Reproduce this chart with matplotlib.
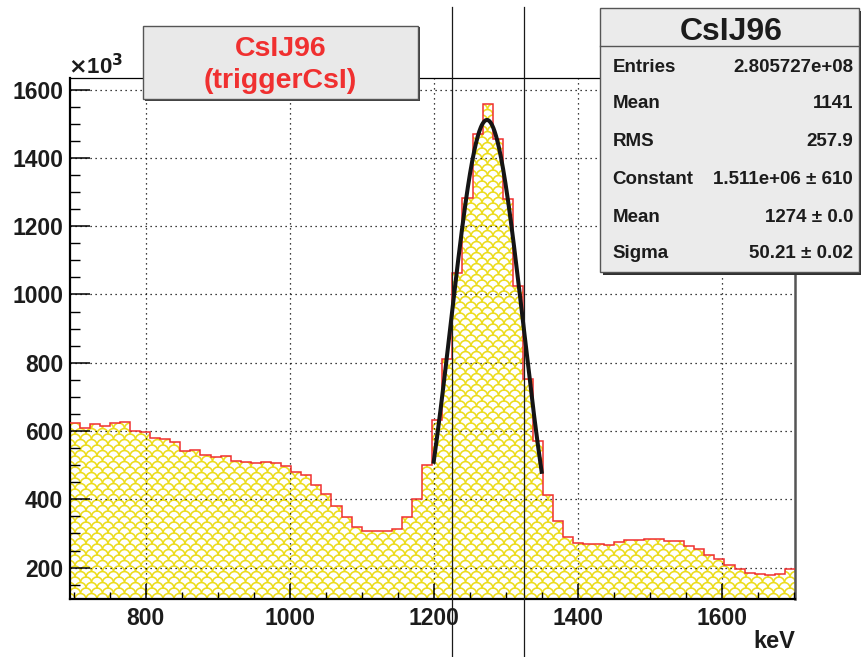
import numpy as np
import matplotlib
matplotlib.use('Agg')
import matplotlib.pyplot as plt
from matplotlib.collections import LineCollection
from matplotlib.patches import Rectangle
from matplotlib.lines import Line2D
from matplotlib.ticker import MultipleLocator
from matplotlib.transforms import blended_transform_factory

plt.rcParams['font.family'] = ['Liberation Sans', 'DejaVu Sans']
plt.rcParams['font.weight'] = 'bold'

# CsI J96 energy spectrum, counts per bin in units of 10^3
bin_lo = 694
bin_width = 14
counts_k = [
    622, 608, 620, 615, 624, 627, 601, 598, 579, 576,
    569, 541, 543, 530, 525, 528, 512, 509, 505, 510,
    507, 497, 481, 471, 441, 416, 381, 347, 320, 307,
    307, 307, 313, 348, 400, 499, 632, 810, 1062, 1283,
    1471, 1559, 1455, 1279, 1024, 752, 572, 412, 335, 289,
    273, 268, 268, 266, 274, 280, 282, 285, 283, 277,
    277, 263, 253, 238, 226, 207, 196, 185, 180, 178,
    181, 195,
]

# gaussian fit to the photopeak
fit_const_k = 1511
fit_mean = 1274
fit_sigma = 50.21
fit_range = (1200, 1350)

# selection window
cut_lines = [1225, 1325]

stats_names = ['Entries', 'Mean', 'RMS', 'Constant', 'Mean', 'Sigma']
stats_values = ['2.805727e+08', '1141', '257.9', '1.511e+06 ± 610',
                '1274 ± 0.0', '50.21 ± 0.02']

W, H = 861, 657
TXT = '#1c1c1c'


def fx(x):
    return x / W


def fy(y):
    return 1 - y / H


def scale_segments(x0, y0, x1, y1, step):
    # rows of half circles, every other row shifted: "fish scale" fill
    r = step / 2
    t = np.linspace(0, np.pi, 9)
    segs = []
    row = 0
    y = y0 - step
    while y < y1 + step:
        x = x0 - step + (r if row % 2 else 0)
        while x < x1 + step:
            segs.append(np.column_stack([x + r * np.cos(t), y + r * np.sin(t)]))
            x += step
        y += r
        row += 1
    return segs


fig = plt.figure(figsize=(W / 100, H / 100), dpi=100)
ax = fig.add_axes([fx(69.5), fy(599), (795 - 69.5) / W, (599 - 78.3) / H])

edges = bin_lo + bin_width * np.arange(len(counts_k) + 1)
fill = ax.stairs(counts_k, edges, fill=True, facecolor='white',
                 edgecolor='none', baseline=0, zorder=1)

# yellow scale pattern, drawn in inches and clipped to the histogram
pos = ax.get_position()
lc = LineCollection(scale_segments(pos.x0 * W / 100, pos.y0 * H / 100,
                                   pos.x1 * W / 100, pos.y1 * H / 100, 0.11),
                    colors='#ecdc1c', linewidths=1.15,
                    transform=fig.dpi_scale_trans, zorder=1.2)
ax.add_collection(lc, autolim=False)
lc.set_clip_path(fill)

ax.stairs(counts_k, edges, color='#f03030', linewidth=1.1, baseline=None,
          zorder=2.6)

xf = np.linspace(fit_range[0], fit_range[1], 200)
yf = fit_const_k * np.exp(-0.5 * ((xf - fit_mean) / fit_sigma) ** 2)
ax.plot(xf, yf, color='#151515', linewidth=2.9, zorder=3)

ax.set_xlim(edges[0], edges[-1])
ax.set_ylim(108, 1633)

ax.xaxis.set_major_locator(MultipleLocator(200))
ax.xaxis.set_minor_locator(MultipleLocator(50))
ax.yaxis.set_major_locator(MultipleLocator(200))
ax.yaxis.set_minor_locator(MultipleLocator(50))
ax.set_axisbelow(False)
ax.grid(True, which='major', color='black', linestyle=(0, (1, 3)),
        linewidth=0.9)

ax.tick_params(axis='x', which='major', direction='in', length=10.8,
               width=1.1, labelsize=16.5, pad=5.5, top=False)
ax.tick_params(axis='x', which='minor', direction='in', length=5.4,
               width=1.0, top=False)
ax.tick_params(axis='y', which='major', direction='in', length=14.4,
               width=1.1, labelsize=16.5, pad=4.5, right=False)
ax.tick_params(axis='y', which='minor', direction='in', length=7.2,
               width=1.0, right=False)
for lab in ax.get_xticklabels() + ax.get_yticklabels():
    lab.set_fontweight('bold')
    lab.set_color(TXT)

ax.spines['left'].set_linewidth(1.6)
ax.spines['bottom'].set_linewidth(1.6)
ax.spines['top'].set_linewidth(0.9)
ax.spines['right'].set_linewidth(1.8)
ax.spines['right'].set_color('#555555')

fig.text(fx(795), fy(642), 'keV', ha='right', va='center', fontsize=17,
         fontweight='bold', color=TXT)
fig.text(fx(68), fy(67), r'$\times$10$^{\mathbf{3}}$', ha='left',
         va='center', fontsize=16, fontweight='bold', color=TXT)

# selection window lines run across the whole canvas
btr = blended_transform_factory(ax.transData, fig.transFigure)
for xc in cut_lines:
    fig.add_artist(Line2D([xc, xc], [0, fy(7)], transform=btr,
                          color='#1a1a1a', linewidth=0.9, zorder=2))

# title box
fig.add_artist(Rectangle((fx(145), fy(100.5)), (418.3 - 143) / W,
                         (98.7 - 25.7) / H, transform=fig.transFigure,
                         facecolor='#404040', edgecolor='none', zorder=3))
fig.add_artist(Rectangle((fx(143), fy(98.7)), (418.3 - 143) / W,
                         (98.7 - 25.7) / H, transform=fig.transFigure,
                         facecolor='#e9e9e9', edgecolor='#555555',
                         linewidth=1.0, zorder=3.1))
fig.text(fx(280.5), fy(49), 'CsIJ96', ha='center', va='center',
         fontsize=20.5, fontweight='bold', color='#f03030', zorder=4)
fig.text(fx(280.5), fy(81), '(triggerCsI)', ha='center', va='center',
         fontsize=20.5, fontweight='bold', color='#f03030', zorder=4)

# statistics box
sx0, sx1, sy0, sy1 = 600, 859, 8, 272
fig.add_artist(Rectangle((fx(sx0 + 2.5), fy(sy1 + 2.5)), (sx1 - sx0) / W,
                         (sy1 - sy0) / H, transform=fig.transFigure,
                         facecolor='#303030', edgecolor='none', zorder=3))
fig.add_artist(Rectangle((fx(sx0), fy(sy1)), (sx1 - sx0) / W,
                         (sy1 - sy0) / H, transform=fig.transFigure,
                         facecolor='#ebebeb', edgecolor='#555555',
                         linewidth=1.0, zorder=3.1))
fig.add_artist(Line2D([fx(sx0), fx(sx1)], [fy(45.7), fy(45.7)],
                      transform=fig.transFigure, color='#555555',
                      linewidth=1.0, zorder=3.2))
fig.text(fx(731), fy(32), 'CsIJ96', ha='center', va='center', fontsize=23,
         fontweight='bold', color=TXT, zorder=4)
row_y = [68, 104, 142, 180, 217, 253]
for name, val, yy in zip(stats_names, stats_values, row_y):
    fig.text(fx(612.5), fy(yy), name, ha='left', va='center', fontsize=13.5,
             fontweight='bold', color=TXT, zorder=4)
    fig.text(fx(853), fy(yy), val, ha='right', va='center', fontsize=13.5,
             fontweight='bold', color=TXT, zorder=4)

fig.savefig('out.png', dpi=100)
